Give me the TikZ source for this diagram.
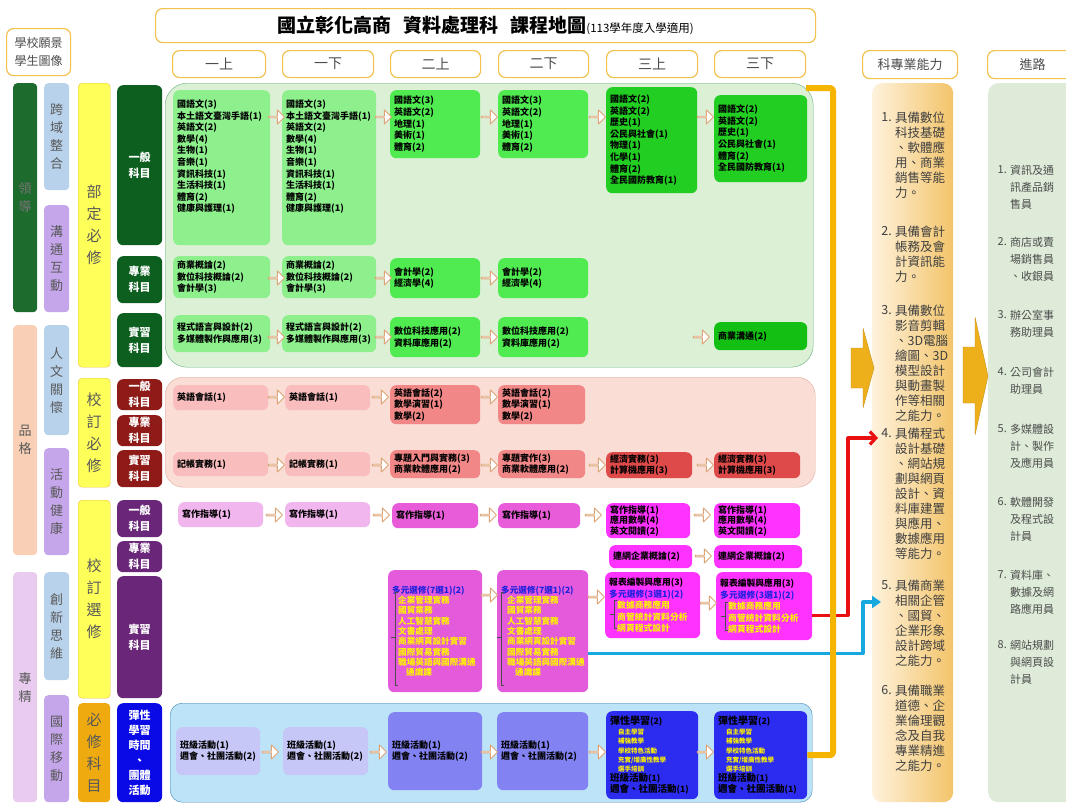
\documentclass[tikz,border=0pt]{standalone}
\usepackage{fontspec}
\setmainfont{Noto Sans CJK TC}
\usetikzlibrary{arrows.meta,shapes.arrows}
\definecolor{hdrc}{HTML}{F2C14E}
\definecolor{lead}{HTML}{1E6B2E}
\definecolor{peach}{HTML}{F9D0B6}
\definecolor{lilac}{HTML}{E8CBEF}
\definecolor{ltblue}{HTML}{B8D2EC}
\definecolor{lav}{HTML}{C5A6EB}
\definecolor{yel}{HTML}{FFFF59}
\definecolor{yelb}{HTML}{EBC13A}
\definecolor{reqor}{HTML}{EEAA0E}
\definecolor{kg}{HTML}{0C5F1F}
\definecolor{dkred}{HTML}{8E1B17}
\definecolor{dkpur}{HTML}{6A2779}
\definecolor{flb}{HTML}{0A0AE6}
\definecolor{greenbg}{HTML}{DCF0D6}
\definecolor{greenbd}{HTML}{63B07A}
\definecolor{pinkbg}{HTML}{FADDD4}
\definecolor{pinkbd}{HTML}{E2AA9C}
\definecolor{bluebg}{HTML}{BDE3F8}
\definecolor{bluebd}{HTML}{3F87B2}
\definecolor{g1}{HTML}{8DF08D}
\definecolor{g2}{HTML}{50EB50}
\definecolor{g3}{HTML}{22CE22}
\definecolor{g4}{HTML}{12BF12}
\definecolor{p1}{HTML}{F9BDBD}
\definecolor{p2}{HTML}{F28787}
\definecolor{p3}{HTML}{DE4A4A}
\definecolor{m1}{HTML}{F2B6EE}
\definecolor{m2}{HTML}{E95CD9}
\definecolor{m3}{HTML}{FF33FF}
\definecolor{m4}{HTML}{E35BDB}
\definecolor{b1}{HTML}{C6C6F7}
\definecolor{b2}{HTML}{8282F2}
\definecolor{b3}{HTML}{2C2CF0}
\definecolor{arrc}{HTML}{DDA577}
\definecolor{mtitle}{HTML}{2020E0}
\definecolor{gold}{HTML}{EDB01A}
\definecolor{goldbd}{HTML}{C8921A}
\definecolor{orline}{HTML}{F5B400}
\definecolor{redc}{HTML}{E81010}
\definecolor{cyanc}{HTML}{18A8E0}
\definecolor{abl}{HTML}{FEF2DC}
\definecolor{abr}{HTML}{F3C46A}
\definecolor{routec}{HTML}{DDEBD8}
\newcommand\ylw[1]{\textcolor{yellow}{#1}}
\newcommand\mttl[1]{\textcolor{mtitle}{#1}}

\begin{document}
\begin{tikzpicture}[x=1pt,y=-1pt,line join=round,
  hdr/.style={draw=hdrc,line width=1.2pt,rounded corners=7,fill=white,anchor=north west,inner sep=0,text=black!70,font=\fontsize{14}{16}\selectfont},
  side/.style={rounded corners=4,anchor=north west,inner sep=0,align=center,text=black!65,font=\fontsize{13}{18}\selectfont},
  kind/.style={rounded corners=6,anchor=north west,inner sep=0,align=center,text=white,font=\fontsize{11}{16}\selectfont\bfseries},
  region/.style={anchor=north west,inner sep=0},
  crs/.style={rounded corners=6,anchor=north west,inner xsep=4pt,inner ysep=1pt,align=left,font=\fontsize{9}{11.6}\selectfont\bfseries},
  harr/.style={single arrow,draw=arrc,fill=white,line width=0.9pt,minimum height=16,minimum width=14,single arrow head extend=3.5,inner sep=0},
  abil/.style={anchor=north west,inner sep=0,align=left,text=black!75,font=\fontsize{12.5}{15}\selectfont},
  abno/.style={anchor=north east,inner sep=0,text=black!75,font=\fontsize{12.5}{15}\selectfont},
  route/.style={anchor=north west,inner sep=0,align=left,text=black!70,font=\fontsize{11}{17}\selectfont},
  rtno/.style={anchor=north east,inner sep=0,text=black!70,font=\fontsize{11}{17}\selectfont}]
\useasboundingbox[fill=white] (0,0) rectangle (1066,806);

% headers
\node[hdr,minimum width=64,minimum height=47,align=center,font=\fontsize{12}{18}\selectfont] (vision) at (6,28) {學校願景\\學生圖像};
\node[hdr,minimum width=660,minimum height=34,text=black] (title) at (155,8) {{\fontsize{19}{22}\selectfont\bfseries 國立彰化高商\hspace{12pt}資料處理科\hspace{12pt}課程地圖}{\fontsize{11.5}{13}\selectfont(113學年度入學適用)}};
\node[hdr,minimum width=93,minimum height=27] (s11) at (172,50) {一上};
\node[hdr,minimum width=91,minimum height=27] (s12) at (282,50) {一下};
\node[hdr,minimum width=90,minimum height=27] (s21) at (390,50) {二上};
\node[hdr,minimum width=90,minimum height=27] (s22) at (498,50) {二下};
\node[hdr,minimum width=91,minimum height=27] (s31) at (606,50) {三上};
\node[hdr,minimum width=91,minimum height=27] (s32) at (714,50) {三下};
\node[hdr,minimum width=95,minimum height=28,font=\fontsize{13}{15}\selectfont] (abhdr) at (862,50) {科專業能力};
\node[hdr,minimum width=90,minimum height=28,font=\fontsize{13}{15}\selectfont] (rthdr) at (987,50) {進路};

% student image
\node[side,fill=lead,minimum width=24,minimum height=229,text=black!55] (lead) at (13,83) {領\\導};
\node[side,fill=peach,minimum width=24,minimum height=230] (virtue) at (13,325) {品\\格};
\node[side,fill=lilac,minimum width=24,minimum height=230] (expert) at (13,572) {專\\精};
\node[side,fill=ltblue,minimum width=25,minimum height=107] (cross) at (44,83) {跨\\域\\整\\合};
\node[side,fill=lav,minimum width=25,minimum height=107] (comm) at (44,205) {溝\\通\\互\\動};
\node[side,fill=ltblue,minimum width=25,minimum height=110] (human) at (44,325) {人\\文\\關\\懷};
\node[side,fill=lav,minimum width=25,minimum height=107] (health) at (44,448) {活\\動\\健\\康};
\node[side,fill=ltblue,minimum width=25,minimum height=108] (innov) at (44,572) {創\\新\\思\\維};
\node[side,fill=lav,minimum width=25,minimum height=107] (intl) at (44,695) {國\\際\\移\\動};

% course types
\node[side,fill=yel,draw=yelb,minimum width=32,minimum height=284,font=\fontsize{15}{22}\selectfont] (natreq) at (78,83) {部\\定\\必\\修};
\node[side,fill=yel,draw=yelb,minimum width=32,minimum height=109,font=\fontsize{15}{22}\selectfont] (schreq) at (78,378) {校\\訂\\必\\修};
\node[side,fill=yel,draw=yelb,minimum width=32,minimum height=198,font=\fontsize{15}{22}\selectfont] (schele) at (78,500) {校\\訂\\選\\修};
\node[side,fill=reqor,minimum width=32,minimum height=99,font=\fontsize{15}{22}\selectfont] (reqsub) at (78,703) {必\\修\\科\\目};
\node[kind,fill=kg,minimum width=45,minimum height=160] (kg1) at (117,85) {一般\\科目};
\node[kind,fill=kg,minimum width=45,minimum height=47] (kg2) at (117,256) {專業\\科目};
\node[kind,fill=kg,minimum width=45,minimum height=54] (kg3) at (117,313) {實習\\科目};
\node[kind,fill=dkred,minimum width=45,minimum height=31] (kr1) at (117,379) {一般\\科目};
\node[kind,fill=dkred,minimum width=45,minimum height=31] (kr2) at (117,415) {專業\\科目};
\node[kind,fill=dkred,minimum width=45,minimum height=37] (kr3) at (117,450) {實習\\科目};
\node[kind,fill=dkpur,minimum width=45,minimum height=37] (kp1) at (117,500) {一般\\科目};
\node[kind,fill=dkpur,minimum width=45,minimum height=31] (kp2) at (117,541) {專業\\科目};
\node[kind,fill=dkpur,minimum width=45,minimum height=122] (kp3) at (117,576) {實習\\科目};
\node[kind,fill=flb,minimum width=45,minimum height=99,font=\fontsize{11}{15}\selectfont\bfseries] (kb) at (117,703) {彈性\\學習\\時間\\、\\團體\\活動};

% regions
\node[region,rounded corners=22,fill=greenbg,draw=greenbd,minimum width=648,minimum height=284] (greenreg) at (165,83) {};
\node[region,rounded corners=18,fill=pinkbg,draw=pinkbd,minimum width=650,minimum height=110] (pinkreg) at (165,377) {};
\node[region,rounded corners=12,fill=bluebg,draw=bluebd,minimum width=642,minimum height=99] (bluereg) at (170,703) {};

% national required
\node[crs,fill=g1,minimum width=97,minimum height=155,text width=89] (gg1) at (173,90) {國語文(3)\\本土語文臺灣手語(1)\\英語文(2)\\數學(4)\\生物(1)\\音樂(1)\\資訊科技(1)\\生活科技(1)\\體育(2)\\健康與護理(1)\rule[-24pt]{0pt}{24pt}};
\node[crs,fill=g1,minimum width=94,minimum height=155,text width=86] (gg2) at (282,90) {國語文(3)\\本土語文臺灣手語(1)\\英語文(2)\\數學(4)\\生物(1)\\音樂(1)\\資訊科技(1)\\生活科技(1)\\體育(2)\\健康與護理(1)\rule[-24pt]{0pt}{24pt}};
\node[crs,fill=g2,minimum width=90,minimum height=68,text width=82] (gg3) at (390,90) {國語文(3)\\英語文(2)\\地理(1)\\美術(1)\\體育(2)};
\node[crs,fill=g2,minimum width=90,minimum height=68,text width=82] (gg4) at (498,90) {國語文(3)\\英語文(2)\\地理(1)\\美術(1)\\體育(2)};
\node[crs,fill=g3,minimum width=91,minimum height=106,text width=83] (gg5) at (606,87) {國語文(2)\\英語文(2)\\歷史(1)\\公民與社會(1)\\物理(1)\\化學(1)\\體育(2)\\全民國防教育(1)};
\node[crs,fill=g3,minimum width=93,minimum height=87,text width=85] (gg6) at (714,95) {國語文(2)\\英語文(2)\\歷史(1)\\公民與社會(1)\\體育(2)\\全民國防教育(1)};
\node[crs,fill=g1,minimum width=97,minimum height=42,text width=89] (gp1) at (173,256) {商業概論(2)\\數位科技概論(2)\\會計學(3)};
\node[crs,fill=g1,minimum width=94,minimum height=42,text width=86] (gp2) at (282,256) {商業概論(2)\\數位科技概論(2)\\會計學(3)};
\node[crs,fill=g2,minimum width=90,minimum height=40,text width=82] (gp3) at (390,258) {會計學(2)\\經濟學(4)};
\node[crs,fill=g2,minimum width=90,minimum height=40,text width=82] (gp4) at (498,258) {會計學(2)\\經濟學(4)};
\node[crs,fill=g1,minimum width=97,minimum height=37,text width=89] (gi1) at (173,315) {程式語言與設計(2)\\多媒體製作與應用(3)};
\node[crs,fill=g1,minimum width=94,minimum height=37,text width=86] (gi2) at (282,315) {程式語言與設計(2)\\多媒體製作與應用(3)};
\node[crs,fill=g2,minimum width=90,minimum height=40,text width=82] (gi3) at (390,317) {數位科技應用(2)\\資料庫應用(2)};
\node[crs,fill=g2,minimum width=90,minimum height=40,text width=82] (gi4) at (498,317) {數位科技應用(2)\\資料庫應用(2)};
\node[crs,fill=g4,minimum width=93,minimum height=28,text width=85] (gi6) at (714,322) {商業溝通(2)};
\foreach \ax in {276,383,489,597,705} \node[harr] at (\ax,117) {};
\foreach \ax in {276,383,489} \node[harr] at (\ax,278) {};
\foreach \ax in {276,383,489,701} \node[harr] at (\ax,337) {};

% school required
\node[crs,fill=p1,minimum width=95,minimum height=25,text width=87] (rg1) at (173,385) {英語會話(1)};
\node[crs,fill=p1,minimum width=85,minimum height=25,text width=77] (rg2) at (285,385) {英語會話(1)};
\node[crs,fill=p2,minimum width=90,minimum height=39,text width=82] (rg3) at (390,385) {英語會話(2)\\數學演習(1)\\數學(2)};
\node[crs,fill=p2,minimum width=87,minimum height=39,text width=79] (rg4) at (498,385) {英語會話(2)\\數學演習(1)\\數學(2)};
\node[crs,fill=p1,minimum width=95,minimum height=24,text width=87] (ri1) at (173,452) {記帳實務(1)};
\node[crs,fill=p1,minimum width=85,minimum height=24,text width=77] (ri2) at (285,452) {記帳實務(1)};
\node[crs,fill=p2,minimum width=90,minimum height=28,text width=82] (ri3) at (390,450) {專題入門與實務(3)\\商業軟體應用(2)};
\node[crs,fill=p2,minimum width=87,minimum height=28,text width=79] (ri4) at (498,450) {專題實作(3)\\商業軟體應用(2)};
\node[crs,fill=p3,minimum width=86,minimum height=26,text width=78] (ri5) at (606,452) {經濟實務(3)\\計算機應用(3)};
\node[crs,fill=p3,minimum width=86,minimum height=26,text width=78] (ri6) at (714,452) {經濟實務(3)\\計算機應用(3)};
\foreach \ax in {276,380,489} \node[harr] at (\ax,397) {};
\foreach \ax in {276,380,489,597,705} \node[harr] at (\ax,465) {};

% school elective
\node[crs,fill=m1,minimum width=85,minimum height=25,text width=77] (pg1) at (178,502) {寫作指導(1)};
\node[crs,fill=m1,minimum width=85,minimum height=25,text width=77] (pg2) at (285,502) {寫作指導(1)};
\node[crs,fill=m2,minimum width=86,minimum height=25,text width=78] (pg3) at (392,503) {寫作指導(1)};
\node[crs,fill=m2,minimum width=82,minimum height=25,text width=74] (pg4) at (498,503) {寫作指導(1)};
\node[crs,fill=m3,minimum width=84,minimum height=35,text width=76,font=\fontsize{9}{10.6}\selectfont\bfseries] (pg5) at (606,503) {寫作指導(1)\\應用數學(4)\\英文閱讀(2)};
\node[crs,fill=m3,minimum width=86,minimum height=35,text width=78,font=\fontsize{9}{10.6}\selectfont\bfseries] (pg6) at (714,503) {寫作指導(1)\\應用數學(4)\\英文閱讀(2)};
\node[crs,fill=m3,minimum width=83,minimum height=23,text width=75] (pp5) at (609,545) {連網企業概論(2)};
\node[crs,fill=m3,minimum width=88,minimum height=23,text width=80] (pp6) at (714,545) {連網企業概論(2)};
\node[crs,fill=m4,minimum width=94,minimum height=122,text width=86,font=\fontsize{8.6}{10.3}\selectfont\bfseries] (pi3) at (388,570) {\mttl{多元選修(7選1)(2)}\\\hspace*{6pt}\ylw{企業管理實務}\\\hspace*{6pt}\ylw{國貿業務}\\\hspace*{6pt}\ylw{人工智慧實務}\\\hspace*{6pt}\ylw{文書處理}\\\hspace*{6pt}\ylw{商業網頁設計實習}\\\hspace*{6pt}\ylw{國際貿易實務}\\\hspace*{6pt}\ylw{職場英語與國際溝通}\\\hspace*{14pt}\ylw{通識課}};
\node[crs,fill=m4,minimum width=91,minimum height=122,text width=83,font=\fontsize{8.6}{10.3}\selectfont\bfseries] (pi4) at (497,570) {\mttl{多元選修(7選1)(2)}\\\hspace*{6pt}\ylw{企業管理實務}\\\hspace*{6pt}\ylw{國貿業務}\\\hspace*{6pt}\ylw{人工智慧實務}\\\hspace*{6pt}\ylw{文書處理}\\\hspace*{6pt}\ylw{商業網頁設計實習}\\\hspace*{6pt}\ylw{國際貿易實務}\\\hspace*{6pt}\ylw{職場英語與國際溝通}\\\hspace*{14pt}\ylw{通識課}};
\node[crs,fill=m3,minimum width=95,minimum height=66,text width=87,font=\fontsize{8.8}{11.4}\selectfont\bfseries] (pi5) at (605,572) {報表編製與應用(3)\\\mttl{多元選修(3選1)(2)}\\\hspace*{8pt}\ylw{數據商務應用}\\\hspace*{8pt}\ylw{商管統計資料分析}\\\hspace*{8pt}\ylw{網頁程式設計}};
\node[crs,fill=m3,minimum width=96,minimum height=68,text width=88,font=\fontsize{8.8}{11.4}\selectfont\bfseries] (pi6) at (716,572) {報表編製與應用(3)\\\mttl{多元選修(3選1)(2)}\\\hspace*{8pt}\ylw{數據商務應用}\\\hspace*{8pt}\ylw{商管統計資料分析}\\\hspace*{8pt}\ylw{網頁程式設計}};
\draw[black!70,line width=0.6pt] (398,592) -- (395,592) -- (395,685) -- (398,685) (395,637) -- (391,637);
\draw[black!70,line width=0.6pt] (504,592) -- (501,592) -- (501,685) -- (504,685) (501,637) -- (497,637);
\draw[black!70,line width=0.6pt] (617,600) -- (614,600) -- (614,628) -- (617,628) (614,614) -- (610,614);
\draw[black!70,line width=0.6pt] (728,602) -- (725,602) -- (725,630) -- (728,630) (725,616) -- (721,616);
\foreach \ax in {274,381,488,593,702} \node[harr] at (\ax,515) {};
\node[harr] at (703,556) {};
\foreach \ax/\ay in {489/595,596/597,708/603} \node[harr] at (\ax,\ay) {};

% flexible learning
\node[crs,fill=b1,minimum width=84,minimum height=48,text width=76] (fb1) at (176,727) {班級活動(1)\\週會、社團活動(2)};
\node[crs,fill=b1,minimum width=85,minimum height=48,text width=77] (fb2) at (283,727) {班級活動(1)\\週會、社團活動(2)};
\node[crs,fill=b2,minimum width=94,minimum height=78,text width=86] (fb3) at (388,712) {班級活動(1)\\週會、社團活動(2)};
\node[crs,fill=b2,minimum width=91,minimum height=78,text width=83] (fb4) at (497,712) {班級活動(1)\\週會、社團活動(2)};
\node[crs,fill=b3,minimum width=92,minimum height=88,text width=84,font=\fontsize{8.6}{9.4}\selectfont\bfseries] (fb5) at (606,711) {{\fontsize{10}{10}\selectfont 彈性學習}(2)\\\hspace*{8pt}{\fontsize{6.5}{7}\selectfont\ylw{自主學習}}\\\hspace*{8pt}{\fontsize{6.5}{7}\selectfont\ylw{補強教學}}\\\hspace*{8pt}{\fontsize{6.5}{7}\selectfont\ylw{學校特色活動}}\\\hspace*{8pt}{\fontsize{6.5}{7}\selectfont\ylw{充實/增廣性教學}}\\\hspace*{8pt}{\fontsize{6.5}{7}\selectfont\ylw{選手培訓}}\\{\fontsize{9.5}{10}\selectfont 班級活動}(1)\\{\fontsize{9.5}{10}\selectfont 週會、社團活動}(1)};
\node[crs,fill=b3,minimum width=93,minimum height=88,text width=85,font=\fontsize{8.6}{9.4}\selectfont\bfseries] (fb6) at (714,711) {{\fontsize{10}{10}\selectfont 彈性學習}(2)\\\hspace*{8pt}{\fontsize{6.5}{7}\selectfont\ylw{自主學習}}\\\hspace*{8pt}{\fontsize{6.5}{7}\selectfont\ylw{補強教學}}\\\hspace*{8pt}{\fontsize{6.5}{7}\selectfont\ylw{學校特色活動}}\\\hspace*{8pt}{\fontsize{6.5}{7}\selectfont\ylw{充實/增廣性教學}}\\\hspace*{8pt}{\fontsize{6.5}{7}\selectfont\ylw{選手培訓}}\\{\fontsize{9.5}{10}\selectfont 班級活動}(1)\\{\fontsize{9.5}{10}\selectfont 週會、社團活動}(1)};
\foreach \ax in {270,378,489,597,705} \node[harr] at (\ax,752) {};

% abilities and careers
\node[region,rounded corners=10,left color=abl,right color=abr,minimum width=81,minimum height=719] (abpanel) at (872,83) {};
\node[region,rounded corners=10,fill=routec,minimum width=90,minimum height=719] (rtpanel) at (988,83) {};
\node[abil] (ab1) at (895,112) {具備數位\\科技基礎\\、軟體應\\用、商業\\銷售等能\\力。};
\node[abil] (ab2) at (895,226) {具備會計\\帳務及會\\計資訊能\\力。};
\node[abil] (ab3) at (895,305) {具備數位\\影音剪輯\\、3D電腦\\繪圖、3D\\模型設計\\與動畫製\\作等相關\\之能力。};
\node[abil] (ab4) at (895,428) {具備程式\\設計基礎\\、網站規\\劃與網頁\\設計、資\\料庫建置\\與應用、\\數據應用\\等能力。};
\node[abil] (ab5) at (895,580) {具備商業\\相關企管\\、國貿、\\企業形象\\設計跨域\\之能力。};
\node[abil] (ab6) at (895,685) {具備職業\\道德、企\\業倫理觀\\念及自我\\專業精進\\之能力。};
\foreach \i in {1,...,6} \node[abno] at ([xshift=-3]ab\i.north west) {\i.};
\node[route] (rt1) at (1010,165) {資訊及通\\訊產品銷\\售員};
\node[route] (rt2) at (1010,237) {商店或賣\\場銷售員\\、收銀員};
\node[route] (rt3) at (1010,310) {辦公室事\\務助理員};
\node[route] (rt4) at (1010,367) {公司會計\\助理員};
\node[route] (rt5) at (1010,424) {多媒體設\\計、製作\\及應用員};
\node[route] (rt6) at (1010,497) {軟體開發\\及程式設\\計員};
\node[route] (rt7) at (1010,570) {資料庫、\\數據及網\\路應用員};
\node[route] (rt8) at (1010,640) {網站規劃\\與網頁設\\計員};
\foreach \i in {1,...,8} \node[rtno] at ([xshift=-3]rt\i.north west) {\i.};
\draw[fill=gold,draw=goldbd,line width=0.4pt] (851,348) -- (863,348) -- (863,328) -- (874,368) -- (863,408) -- (863,388) -- (851,388) -- cycle;
\draw[fill=gold,draw=goldbd,line width=0.4pt] (963,347) -- (975,347) -- (975,317) -- (988,376) -- (975,435) -- (975,403) -- (963,403) -- cycle;

% links
\coordinate (redtip) at (878,438);
\coordinate (cyantip) at (881,602);
\coordinate (ortop) at (806,88);
\draw[redc,line width=3.2pt,-{Straight Barb[length=6pt,width=13pt]}] ([yshift=-9]pi6.east) -| (848,438) -- (redtip);
\draw[cyanc,line width=3.2pt,-{Triangle[length=9pt,width=12pt]}] ([yshift=-22]pi4.east) -| (863,602) -- (cyantip);
\draw[orline,line width=6pt,rounded corners=3] (fb6.east) -| (833,88) -- (ortop);
\end{tikzpicture}
\end{document}
